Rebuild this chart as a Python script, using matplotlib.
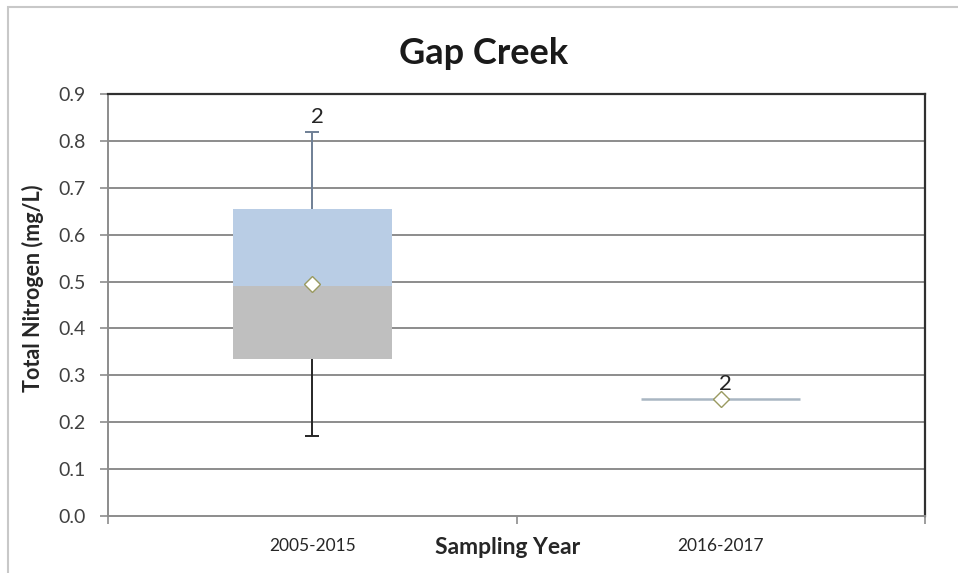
import matplotlib
matplotlib.use("Agg")
import matplotlib.pyplot as plt
from matplotlib.patches import Rectangle

plt.rcParams["font.family"] = ["Lato", "DejaVu Sans"]

# data
categories = ["2005-2015", "2016-2017"]
n_samples = [2, 2]
minimum = [0.17, 0.25]
q1 = [0.335, 0.25]
median = [0.49, 0.25]
q3 = [0.655, 0.25]
maximum = [0.82, 0.25]
means = [0.495, 0.25]
y_ticks = [0.0, 0.1, 0.2, 0.3, 0.4, 0.5, 0.6, 0.7, 0.8, 0.9]

fig = plt.figure(figsize=(9.58, 5.73), dpi=100)
ax = fig.add_axes([108 / 958, 1 - 516 / 573, (925 - 108) / 958, (516 - 94) / 573])

# figure frame (light gray, top & left)
fig.add_artist(Rectangle((8 / 958, -0.1), 1.2, 1 - 7 / 573 + 0.1, transform=fig.transFigure,
                         fill=False, edgecolor="#c8c8c8", linewidth=1.5))

x = [i + 0.5 for i in range(len(categories))]
box_w = 0.39
cap_w = 0.034

ax.set_xlim(0, len(categories))
ax.set_ylim(0, 0.9)

# gridlines
for yv in y_ticks[1:-1]:
    ax.axhline(yv, color="#8c8c8c", linewidth=1.4, zorder=1)

for i in range(len(categories)):
    # lower & upper box halves
    ax.bar(x[i], median[i] - q1[i], bottom=q1[i], width=box_w,
           color="#bfbfbf", linewidth=0, zorder=2)
    ax.bar(x[i], q3[i] - median[i], bottom=median[i], width=box_w,
           color="#b9cde5", linewidth=0, zorder=2)
    if q3[i] == q1[i]:
        ax.hlines(median[i], x[i] - box_w / 2, x[i] + box_w / 2,
                  color="#a9b6c2", linewidth=1.8, zorder=3)
    # whiskers
    if maximum[i] > q3[i]:
        ax.vlines(x[i], q3[i], maximum[i], color="#6f7f95", linewidth=1.4, zorder=3)
        ax.hlines(maximum[i], x[i] - cap_w / 2, x[i] + cap_w / 2,
                  color="#6f7f95", linewidth=1.4, zorder=3)
    if minimum[i] < q1[i]:
        ax.vlines(x[i], minimum[i], q1[i], color="#262626", linewidth=1.4, zorder=3)
        ax.hlines(minimum[i], x[i] - cap_w / 2, x[i] + cap_w / 2,
                  color="#262626", linewidth=1.4, zorder=3)
    # mean marker
    ax.plot(x[i], means[i], marker="D", markersize=8, markerfacecolor="white",
            markeredgecolor="#9a9a60", markeredgewidth=1.0, zorder=4)
    # sample count
    ax.text(x[i] + 0.012, maximum[i] + 0.01, str(n_samples[i]), ha="center", va="bottom",
            fontsize=16, color="#262626", zorder=5)

# axes styling
ax.set_yticks(y_ticks)
ax.set_yticklabels([f"{v:.1f}" for v in y_ticks], fontsize=14, color="#404040")
ax.set_xticks(range(len(categories) + 1))
ax.set_xticklabels([])
ax.tick_params(axis="both", direction="out", length=6, width=1.2, color="#8c8c8c")
ax.tick_params(axis="y", pad=10)
for xi, lab in zip(x, categories):
    ax.text(xi, -0.065, lab, ha="center", va="center", fontsize=12.5, color="#262626",
            transform=ax.transData, clip_on=False)

ax.spines["left"].set_color("#8c8c8c")
ax.spines["bottom"].set_color("#8c8c8c")
ax.spines["left"].set_linewidth(1.4)
ax.spines["bottom"].set_linewidth(1.4)
ax.spines["top"].set_color("#303030")
ax.spines["right"].set_color("#303030")
ax.spines["top"].set_linewidth(1.6)
ax.spines["right"].set_linewidth(1.6)

fig.text(508 / 958, 1 - 548 / 573, "Sampling Year", ha="center", va="center",
         fontsize=16.5, fontweight="bold", color="#262626")
fig.text(33 / 958, 1 - 288 / 573, "Total Nitrogen (mg/L)", ha="center", va="center",
         rotation=90, fontsize=15.5, fontweight="bold", color="#262626")
fig.text(484 / 958, 1 - 53 / 573, "Gap Creek", ha="center", va="center",
         fontsize=26, fontweight="bold", color="#1a1a1a")

fig.savefig("out.png", dpi=100)
